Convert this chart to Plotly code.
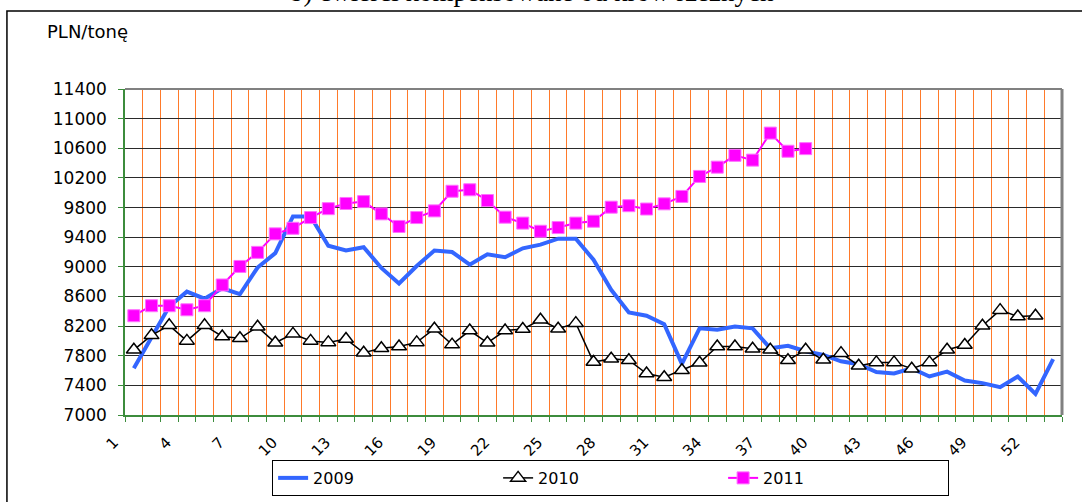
import plotly.graph_objects as go

# Weekly prices, PLN per tonne
weeks = list(range(1, 54))
tick_weeks = list(range(1, 54, 3))

price_2009 = [7630, 8060, 8465, 8665, 8570, 8710, 8630, 8990, 9185, 9680,
              9680, 9285, 9220, 9265, 8985, 8775, 9010, 9220, 9200, 9030,
              9170, 9130, 9250, 9300, 9380, 9380, 9095, 8690, 8385, 8340,
              8225, 7690, 8170, 8150, 8195, 8170, 7900, 7935, 7860, 7810,
              7725, 7685, 7580, 7560, 7630, 7520, 7585, 7465, 7430, 7375,
              7520, 7285, 7755]
price_2010 = [7880, 8075, 8210, 8000, 8210, 8060, 8035, 8190, 7975, 8095,
              8000, 7980, 8025, 7840, 7900, 7925, 7980, 8165, 7950, 8140,
              7975, 8140, 8160, 8285, 8165, 8240, 7715, 7760, 7740, 7560,
              7510, 7605, 7705, 7925, 7925, 7895, 7880, 7740, 7880, 7745,
              7835, 7665, 7710, 7710, 7625, 7710, 7880, 7945, 8205, 8415,
              8330, 8340]
price_2011 = [8340, 8475, 8475, 8420, 8475, 8755, 9005, 9195, 9445, 9520,
              9665, 9785, 9855, 9880, 9715, 9545, 9665, 9755, 10020, 10040,
              9895, 9670, 9590, 9480, 9530, 9590, 9615, 9805, 9825, 9780,
              9850, 9950, 10220, 10345, 10505, 10440, 10805, 10560, 10595]

GREEN = "#3C8C3C"
ORANGE = "#FF7A2A"
FONT = "DejaVu Sans"

fig = go.Figure()
fig.add_trace(go.Scatter(
    x=weeks[:len(price_2009)], y=price_2009, name="2009", mode="lines",
    line=dict(color="#3366FF", width=4),
))
fig.add_trace(go.Scatter(
    x=weeks[:len(price_2010)], y=price_2010, name="2010", mode="lines+markers",
    line=dict(color="black", width=1.5),
    marker=dict(symbol="triangle-up", size=13, color="white",
                line=dict(color="black", width=1.5)),
))
fig.add_trace(go.Scatter(
    x=weeks[:len(price_2011)], y=price_2011, name="2011", mode="lines+markers",
    line=dict(color="#FF00FF", width=2),
    marker=dict(symbol="square", size=12, color="#FF00FF",
                line=dict(color="#FF70FF", width=1)),
))

fig.update_layout(
    width=1082, height=502,
    margin=dict(l=125, r=20, t=89, b=87, autoexpand=False),
    paper_bgcolor="white", plot_bgcolor="white",
    font=dict(family=FONT, size=16, color="black"),
    showlegend=True,
    legend=dict(
        orientation="h", x=0.157, y=-0.138, xanchor="left", yanchor="top",
        bordercolor="black", borderwidth=1, bgcolor="white",
        font=dict(family=FONT, size=16),
        entrywidth=180, entrywidthmode="pixels",
    ),
    xaxis=dict(
        range=[0.5, 53.5],
        tickmode="array", tickvals=tick_weeks,
        ticktext=[str(w) for w in tick_weeks],
        tickangle=-45, ticks="", showgrid=False, zeroline=False,
        tickfont=dict(family=FONT, size=15),
        ticklabelshift=-20, ticklabelstandoff=11,
        showline=True, linecolor=GREEN, linewidth=1.5,
        minor=dict(tick0=0.5, dtick=1, ticks="outside", ticklen=5,
                   tickcolor=GREEN, tickwidth=1,
                   showgrid=True, gridcolor=ORANGE, gridwidth=1),
    ),
    yaxis=dict(
        range=[7000, 11400], tick0=7000, dtick=400, tickformat="d",
        showgrid=True, gridcolor="#2A2A2A", gridwidth=1, zeroline=False,
        showline=True, linecolor=GREEN, linewidth=1.5,
        ticks="outside", ticklen=5, tickcolor=GREEN,
        tickfont=dict(family=FONT, size=17),
        ticklabelstandoff=8,
    ),
    shapes=[
        # plot-area border on the top and right
        dict(type="line", xref="x domain", yref="y domain",
             x0=0, x1=1, y0=1, y1=1, line=dict(color="#808080", width=2)),
        dict(type="line", xref="x domain", yref="y domain",
             x0=1, x1=1, y0=0, y1=1, line=dict(color="#808080", width=3)),
        # outer chart frame
        dict(type="rect", xref="paper", yref="paper",
             x0=-0.126, x1=1.05, y0=-0.35, y1=1.239,
             line=dict(color="black", width=1.5), layer="below"),
    ],
    annotations=[
        dict(text="PLN/tonę", xref="paper", yref="paper",
             x=-0.085, y=1.175, xanchor="left", yanchor="middle",
             showarrow=False, font=dict(family=FONT, size=18)),
        dict(text="b) ćwierci kompensowane od krów rzeźnych",
             xref="paper", yref="paper", x=0.434, y=1.245,
             xanchor="center", yanchor="bottom", showarrow=False,
             font=dict(family="Liberation Serif", size=27)),
    ],
)

fig.write_html("out.html")
